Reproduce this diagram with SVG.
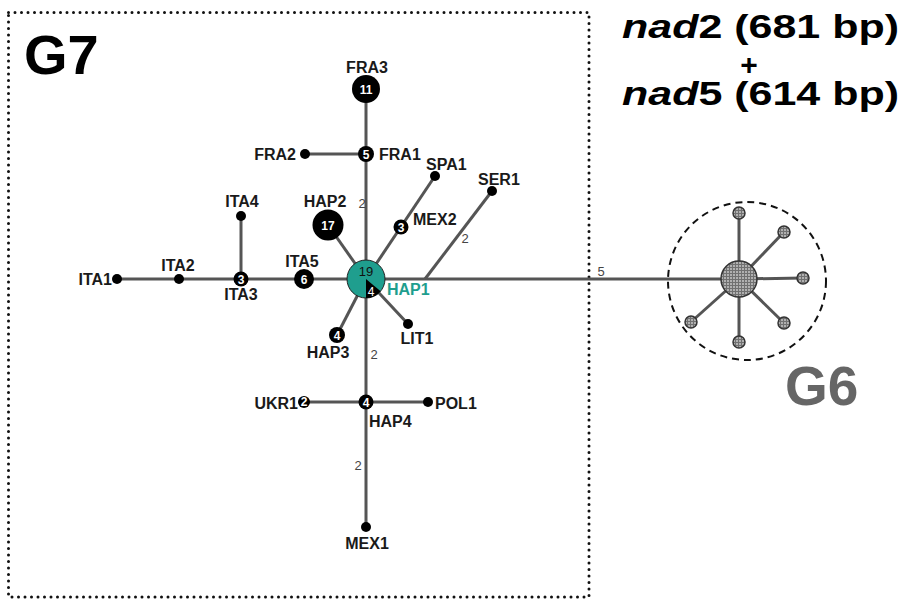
<svg xmlns="http://www.w3.org/2000/svg" width="901" height="599" viewBox="0 0 901 599">
<defs>
<pattern id="hatch" width="3" height="3" patternUnits="userSpaceOnUse">
<rect width="3" height="3" fill="#b0b0b0"/>
<path d="M0 0.5H3M0.5 0V3" stroke="#707070" stroke-width="1"/>
</pattern>
<style>
.ln{stroke:#555;stroke-width:3;fill:none}
.nd{fill:#000}
.g6n{fill:url(#hatch);stroke:#333;stroke-width:1.5}
.lb{font-family:"Liberation Sans",Arial,sans-serif;font-weight:bold;font-size:16px;fill:#1a1a1a}
.num{font-family:"Liberation Sans",Arial,sans-serif;font-weight:bold;font-size:12px;fill:#fff;text-anchor:middle}
.st{font-family:"Liberation Sans",Arial,sans-serif;font-size:13px;fill:#444;text-anchor:middle}
.mid{text-anchor:middle}
.end{text-anchor:end}
</style>
</defs>
<rect width="901" height="599" fill="#fff"/>
<rect x="8.5" y="12.5" width="580.5" height="584.5" fill="none" stroke="#111" stroke-width="3" stroke-linecap="round" stroke-dasharray="0 6.5"/>
<text x="24" y="74" font-family="Liberation Sans,Arial,sans-serif" font-weight="bold" font-size="56" fill="#000">G7</text>
<g id="title" font-family="Liberation Sans,Arial,sans-serif" font-weight="bold" font-size="34" fill="#000">
<text x="622" y="38" textLength="277" lengthAdjust="spacingAndGlyphs"><tspan font-style="italic">nad</tspan>2 (681 bp)</text>
<text x="749" y="75" text-anchor="middle" font-size="30">+</text>
<text x="622" y="105" textLength="277" lengthAdjust="spacingAndGlyphs"><tspan font-style="italic">nad</tspan>5 (614 bp)</text>
</g>
<g id="connectors">
<line class="ln" x1="117" y1="279" x2="739" y2="279"/>
<line class="ln" x1="366" y1="89" x2="366" y2="527"/>
<line class="ln" x1="305" y1="154" x2="366" y2="154"/>
<line class="ln" x1="241" y1="216" x2="241" y2="279"/>
<line class="ln" x1="328" y1="225" x2="366" y2="279"/>
<line class="ln" x1="366" y1="279" x2="435" y2="176"/>
<line class="ln" x1="425" y1="279" x2="492" y2="191"/>
<line class="ln" x1="366" y1="279" x2="408" y2="324"/>
<line class="ln" x1="366" y1="279" x2="337" y2="335"/>
<line class="ln" x1="304" y1="402" x2="428" y2="402"/>
<line class="ln" x1="739" y1="279" x2="739" y2="213"/>
<line class="ln" x1="739" y1="279" x2="784" y2="232"/>
<line class="ln" x1="739" y1="279" x2="803" y2="278"/>
<line class="ln" x1="739" y1="279" x2="784" y2="323"/>
<line class="ln" x1="739" y1="279" x2="739" y2="342"/>
<line class="ln" x1="739" y1="279" x2="691" y2="322"/>
<text class="st" x="362" y="208">2</text>
<text class="st" x="465" y="243">2</text>
<text class="st" x="374" y="359">2</text>
<text class="st" x="358" y="470">2</text>
<text class="st" x="601" y="276">5</text>
</g>
<g id="HAP1">
<circle cx="366" cy="279" r="19" fill="#1f9e8e" stroke="#222" stroke-width="1"/>
<path d="M366 279 L380.6 291.2 A19 19 0 0 1 366 298 Z" fill="#000"/>
<text x="366" y="276" font-family="Liberation Sans,Arial,sans-serif" font-size="13" fill="#111" text-anchor="middle">19</text>
<text x="371" y="296" font-family="Liberation Sans,Arial,sans-serif" font-size="12" fill="#fff" text-anchor="middle">4</text>
<text class="lb" x="387" y="295" style="fill:#1f9e8e">HAP1</text>
</g>
<g id="FRA3"><circle class="nd" cx="366" cy="89" r="14"/><text class="num" x="366" y="94">11</text><text class="lb mid" x="367" y="73">FRA3</text></g>
<g id="FRA1"><circle class="nd" cx="366" cy="154" r="8"/><text class="num" x="366" y="158.5">5</text><text class="lb" x="379" y="160">FRA1</text></g>
<g id="FRA2"><circle class="nd" cx="305" cy="154" r="5"/><text class="lb end" x="296" y="160">FRA2</text></g>
<g id="SPA1"><circle class="nd" cx="435" cy="176" r="5"/><text class="lb" x="426" y="170">SPA1</text></g>
<g id="SER1"><circle class="nd" cx="492" cy="191" r="5"/><text class="lb" x="478" y="185">SER1</text></g>
<g id="MEX2"><circle class="nd" cx="401" cy="227" r="7.5"/><text class="num" x="401" y="231.5">3</text><text class="lb" x="413" y="225">MEX2</text></g>
<g id="HAP2"><circle class="nd" cx="328" cy="225" r="15.5"/><text class="num" x="328" y="230" font-size="13">17</text><text class="lb mid" x="325" y="207">HAP2</text></g>
<g id="ITA4"><circle class="nd" cx="241" cy="216" r="5"/><text class="lb mid" x="242" y="207">ITA4</text></g>
<g id="ITA5"><circle class="nd" cx="304" cy="279" r="10"/><text class="num" x="304" y="283.5" font-size="13">6</text><text class="lb mid" x="302" y="267">ITA5</text></g>
<g id="ITA3"><circle class="nd" cx="241" cy="279" r="7.5"/><text class="num" x="241" y="283.5">3</text><text class="lb mid" x="241" y="300">ITA3</text></g>
<g id="ITA2"><circle class="nd" cx="179" cy="279" r="5"/><text class="lb mid" x="178" y="271">ITA2</text></g>
<g id="ITA1"><circle class="nd" cx="117" cy="279" r="5"/><text class="lb end" x="112" y="285">ITA1</text></g>
<g id="LIT1"><circle class="nd" cx="408" cy="324" r="5"/><text class="lb mid" x="417" y="344">LIT1</text></g>
<g id="HAP3"><circle class="nd" cx="337" cy="335" r="8"/><text class="num" x="337" y="339.5">4</text><text class="lb mid" x="328" y="358">HAP3</text></g>
<g id="HAP4"><circle class="nd" cx="366" cy="402" r="7.5"/><text class="num" x="366" y="406.5">4</text><text class="lb" x="369" y="427">HAP4</text></g>
<g id="UKR1"><circle class="nd" cx="304" cy="402" r="6"/><text class="num" x="304" y="406" font-size="11">2</text><text class="lb end" x="298" y="409">UKR1</text></g>
<g id="POL1"><circle class="nd" cx="428" cy="402" r="5"/><text class="lb" x="435" y="409">POL1</text></g>
<g id="MEX1"><circle class="nd" cx="366" cy="527" r="5"/><text class="lb mid" x="367" y="549">MEX1</text></g>
<g id="G6">
<circle cx="747" cy="281" r="79" fill="none" stroke="#111" stroke-width="2" stroke-dasharray="7 5"/>
<circle class="g6n" cx="739" cy="279" r="18"/>
<circle class="g6n" cx="739" cy="213" r="6"/>
<circle class="g6n" cx="784" cy="232" r="6"/>
<circle class="g6n" cx="803" cy="278" r="6"/>
<circle class="g6n" cx="784" cy="323" r="6"/>
<circle class="g6n" cx="739" cy="342" r="6"/>
<circle class="g6n" cx="691" cy="322" r="6"/>
<text x="785" y="405" font-family="Liberation Sans,Arial,sans-serif" font-weight="bold" font-size="55" fill="#666">G6</text>
</g>
</svg>
